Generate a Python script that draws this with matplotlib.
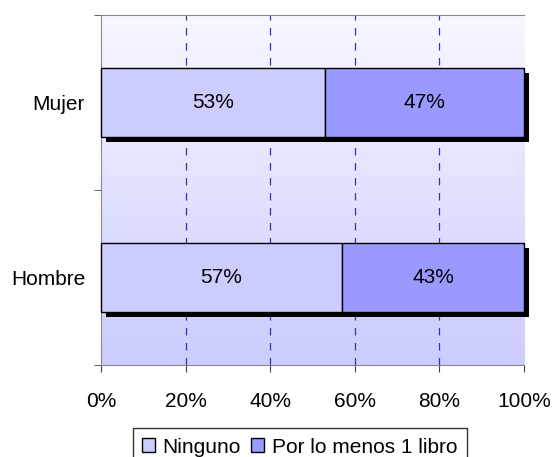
import numpy as np
import matplotlib.pyplot as plt
import matplotlib.patheffects as pe

plt.rcParams['font.family'] = ['Liberation Sans', 'DejaVu Sans']

# data
categories = ['Hombre', 'Mujer']
ninguno = [57, 53]
al_menos_uno = [43, 47]
series_names = ['Ninguno', 'Por lo menos 1 libro']
colors = ['#ccccff', '#9999ff']

fs = 15

fig = plt.figure(figsize=(5.53, 4.57), dpi=100)
ax = fig.add_axes([0.1826, 0.2013, 0.7650, 0.7659])

# gradient background
grad = np.linspace(0, 1, 256).reshape(-1, 1)
top = np.array([0.97, 0.97, 1.0])
bot = np.array([0.80, 0.80, 1.0])
img = top + (bot - top) * grad[:, :, None]
ax.imshow(img, extent=[0, 100, -0.5, 1.5], aspect='auto', origin='upper', zorder=0)

y = np.arange(len(categories))
shadow = [pe.SimplePatchShadow(offset=(3.6, -3.6), shadow_rgbFace='black', alpha=1.0), pe.Normal()]
b1 = ax.barh(y, ninguno, height=0.39, color=colors[0], edgecolor='black', linewidth=1,
             label=series_names[0], zorder=3)
b2 = ax.barh(y, al_menos_uno, left=ninguno, height=0.39, color=colors[1], edgecolor='black',
             linewidth=1, label=series_names[1], zorder=3)
for bars in (b1, b2):
    for r in bars:
        r.set_path_effects(shadow)
        r.set_clip_on(False)

for i in range(len(categories)):
    ax.text(ninguno[i] / 2, y[i], f'{ninguno[i]}%', ha='center', va='center', fontsize=fs, zorder=4)
    ax.text(ninguno[i] + al_menos_uno[i] / 2, y[i], f'{al_menos_uno[i]}%', ha='center',
            va='center', fontsize=fs, zorder=4)

ax.set_xlim(0, 100)
ax.set_ylim(-0.5, 1.5)
ax.set_xticks(np.arange(0, 101, 20))
ax.set_xticklabels([f'{v}%' for v in range(0, 101, 20)], fontsize=fs)
ax.set_yticks(y)
ax.set_yticklabels(categories, fontsize=fs)
ax.tick_params(axis='y', which='major', length=0, pad=11.5)
ax.set_yticks([-0.5, 0.5, 1.5], minor=True)
ax.tick_params(axis='y', which='minor', length=5, color='#444444')
ax.tick_params(axis='x', length=5, color='#444444', pad=14.5)

for v in [20, 40, 60, 80]:
    ax.axvline(v, color='#3333aa', linestyle=(0, (6, 6)), linewidth=0.9, zorder=1)

for s in ['left', 'bottom', 'top']:
    ax.spines[s].set_color('#888888')
ax.spines['right'].set_visible(False)

leg = fig.legend(handles=[b1, b2], labels=series_names, loc='upper center',
                 bbox_to_anchor=(0.542, 0.063), ncol=2, fontsize=fs, frameon=True,
                 fancybox=False, edgecolor='black', handlelength=0.63, handleheight=0.63,
                 handletextpad=0.35, columnspacing=0.5, borderpad=0.45, borderaxespad=0)
leg.get_frame().set_linewidth(1)
for h in leg.legend_handles:
    h.set_path_effects([])

fig.savefig('out.png', dpi=100)
